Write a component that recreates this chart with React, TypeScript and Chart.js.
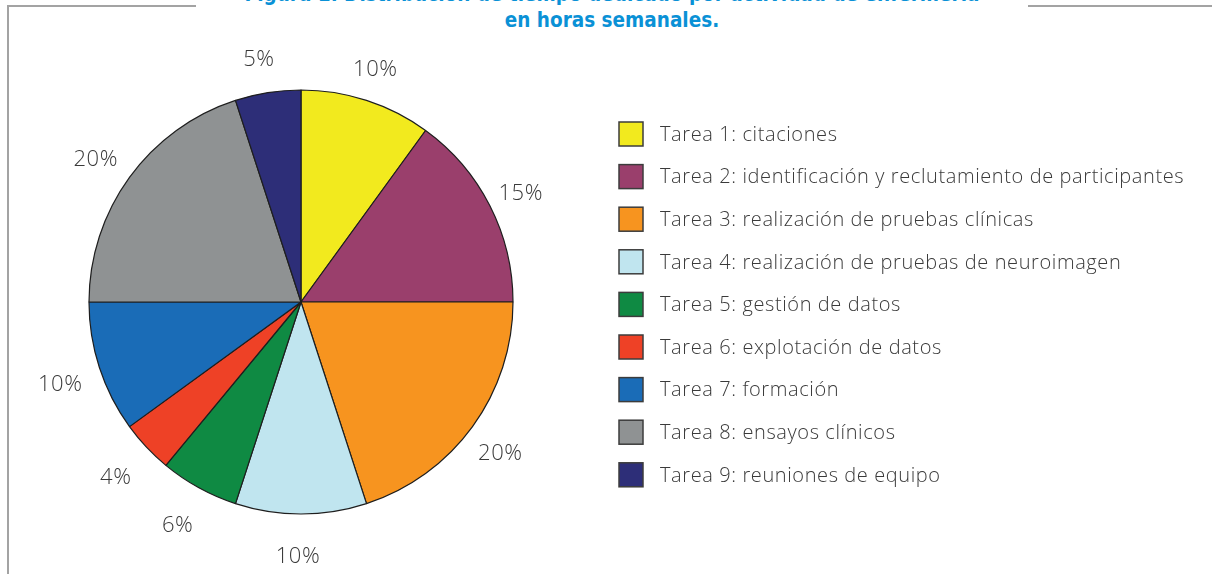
import React, { useEffect, useRef } from "react";
import { Chart, registerables } from "chart.js";

Chart.register(...registerables);

const categories: string[] = [
  "Tarea 1: citaciones",
  "Tarea 2: identificación y reclutamiento de participantes",
  "Tarea 3: realización de pruebas clínicas",
  "Tarea 4: realización de pruebas de neuroimagen",
  "Tarea 5: gestión de datos",
  "Tarea 6: explotación de datos",
  "Tarea 7: formación",
  "Tarea 8: ensayos clínicos",
  "Tarea 9: reuniones de equipo",
];
const percentages: number[] = [10, 15, 20, 10, 6, 4, 10, 20, 5];
const sliceColors: string[] = [
  "#f2ea1e",
  "#9a3f6c",
  "#f7941f",
  "#c0e5ef",
  "#0f8a43",
  "#ee4126",
  "#1a6cb7",
  "#8f9293",
  "#2d2e78",
];
const titleLines: string[] = [
  "Figura 1. Distribución de tiempo dedicado por actividad de enfermería",
  "en horas semanales.",
];

const TEXT_FONT = "'Open Sans', Lato, sans-serif";

const labelsPlugin = {
  id: "pctLabels",
  afterDatasetsDraw(chart: any) {
    const ctx = chart.ctx;
    const meta = chart.getDatasetMeta(0);
    const values = chart.data.datasets[0].data as number[];
    ctx.save();
    ctx.font = `300 22px ${TEXT_FONT}`;
    (ctx as any).letterSpacing = "0.5px";
    ctx.fillStyle = "#3a3a3a";
    ctx.textAlign = "center";
    ctx.textBaseline = "middle";
    meta.data.forEach((arc: any, i: number) => {
      const p = arc.getProps(["x", "y", "startAngle", "endAngle", "outerRadius"], true);
      const mid = (p.startAngle + p.endAngle) / 2;
      const r = p.outerRadius + 38;
      ctx.fillText(`${values[i]}%`, p.x + Math.cos(mid) * r - 3, p.y + Math.sin(mid) * r + 5);
    });
    ctx.restore();
  },
};

const legendPlugin = {
  id: "customLegend",
  afterDraw(chart: any) {
    const ctx = chart.ctx;
    const labels = chart.data.labels as string[];
    const colors = chart.data.datasets[0].backgroundColor as string[];
    const x0 = 619;
    const y0 = 134;
    const step = 42.6;
    const box = 24;
    ctx.save();
    ctx.font = `300 20px ${TEXT_FONT}`;
    (ctx as any).letterSpacing = "0.6px";
    ctx.textBaseline = "middle";
    ctx.textAlign = "left";
    labels.forEach((lab, i) => {
      const cy = y0 + i * step;
      ctx.fillStyle = colors[i];
      ctx.fillRect(x0, cy - box / 2, box, box);
      ctx.strokeStyle = "#3c3c3c";
      ctx.lineWidth = 1.5;
      ctx.strokeRect(x0, cy - box / 2, box, box);
      ctx.fillStyle = "#3a3a3a";
      ctx.fillText(lab, x0 + 41, cy + 1);
    });
    ctx.restore();
  },
};

export default function App() {
  const canvasRef = useRef<HTMLCanvasElement | null>(null);

  useEffect(() => {
    if (!canvasRef.current) return;
    const chart = new Chart(canvasRef.current, {
      type: "pie",
      data: {
        labels: categories,
        datasets: [
          {
            data: percentages,
            backgroundColor: sliceColors,
            borderColor: "#1e1e1e",
            borderWidth: 1.2,
          },
        ],
      },
      options: {
        animation: false,
        responsive: false,
        radius: 212,
        layout: { padding: { left: 89, top: 90, right: 699, bottom: 60 } },
        plugins: {
          legend: { display: false },
          tooltip: { enabled: false },
          title: { display: false },
        },
      } as any,
      plugins: [labelsPlugin, legendPlugin],
    });
    return () => chart.destroy();
  }, []);

  return (
    <div
      style={{
        position: "absolute",
        left: 0,
        top: 0,
        width: 1212,
        height: 574,
        overflow: "hidden",
        background: "#fff",
      }}
    >
      <div
        style={{
          position: "absolute",
          left: 7,
          top: 5,
          width: 1220,
          height: 620,
          borderLeft: "2px solid #a3a3a3",
          borderTop: "2px solid #a3a3a3",
        }}
      />
      <canvas
        ref={canvasRef}
        width={1212}
        height={574}
        style={{ position: "absolute", left: 0, top: 0 }}
      />
      <div
        style={{
          position: "absolute",
          left: 196,
          width: 832,
          top: -19,
          background: "#fff",
          color: "#0a91d6",
          fontFamily: "'DejaVu Sans Condensed', 'DejaVu Sans', sans-serif",
          fontWeight: "bold",
          fontSize: 20.5,
          lineHeight: "26px",
          textAlign: "center",
        }}
      >
        {titleLines.map((t, i) => (
          <div key={i}>{t}</div>
        ))}
      </div>
    </div>
  );
}
